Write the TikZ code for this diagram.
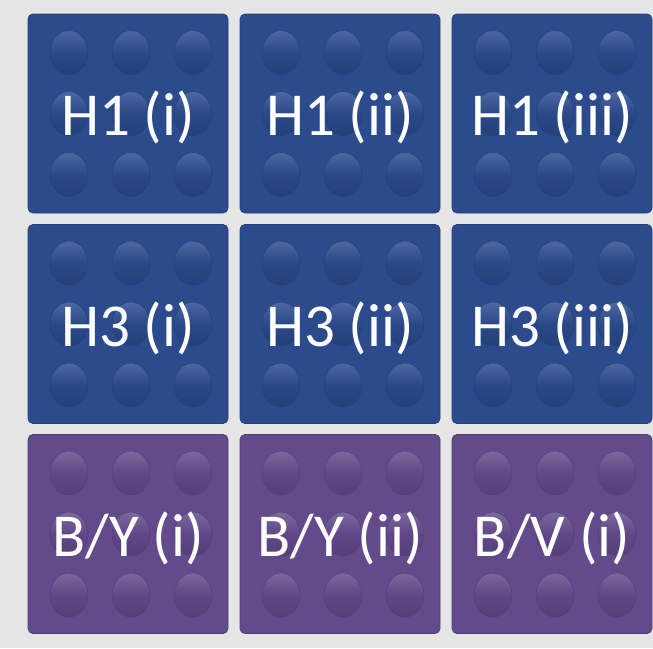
\documentclass[tikz,border=0pt]{standalone}
\usepackage{fontspec}
\setmainfont{Carlito}
\definecolor{bggray}{HTML}{E6E6E6}
\definecolor{hblue}{HTML}{2B4B8D}
\definecolor{bpurple}{HTML}{624A8B}
\tikzset{
  brick/.style={rectangle, rounded corners=5pt, minimum width=200pt, minimum height=199pt,
    inner sep=0pt, fill=#1, draw=#1!85!black, line width=0.8pt},
  stud/.style={top color=#1!84!white, bottom color=#1!86!black, middle color=#1!97!black,
    draw=#1!86!black, line width=0.5pt},
  bricklabel/.style={inner sep=0pt, text=white, font=\fontsize{61}{61}\selectfont},
}
\begin{document}
\begin{tikzpicture}[x=1pt,y=-1pt]
\fill[bggray] (0,0) rectangle (653,648);
\useasboundingbox (0,0) rectangle (653,648);
% three rows of bricks, nine studs each
\foreach \nm/\cx/\cy/\clr/\txt in {
    h1i/128/113.5/hblue/{H1 (i)}, h1ii/340/113.5/hblue/{H1 (ii)}, h1iii/552/113.5/hblue/{H1 (iii)},
    h3i/128/324/hblue/{H3 (i)}, h3ii/340/324/hblue/{H3 (ii)}, h3iii/552/324/hblue/{H3 (iii)},
    byi/128/534/bpurple/{B/Y (i)}, byii/340/534/bpurple/{B/Y (ii)}, bvi/552/534/bpurple/{B/V (i)}} {
  \node[brick=\clr] (\nm) at (\cx,\cy) {};
  \foreach \sx in {-59,3,65}
    \foreach \sy in {-61,0,61}
      \shade[stud=\clr] ([shift={(\sx,\sy)}]\nm.center) ellipse (19 and 22);
  \node[bricklabel] (\nm-t) at ([yshift=-4pt]\nm.center) {\txt};
}
\end{tikzpicture}
\end{document}
